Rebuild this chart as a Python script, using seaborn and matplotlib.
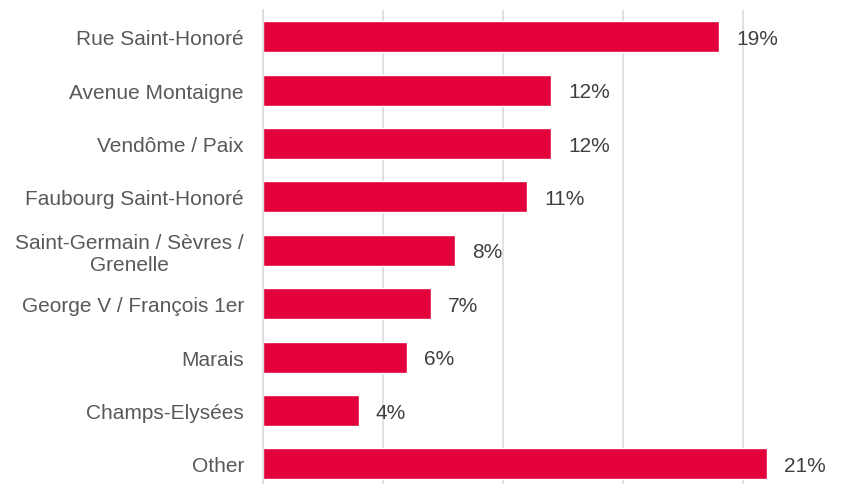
import matplotlib
matplotlib.use("Agg")
import matplotlib.pyplot as plt
import seaborn as sns
import pandas as pd

categories = ["Rue Saint-Honoré", "Avenue Montaigne", "Vendôme / Paix",
              "Faubourg Saint-Honoré", "Saint-Germain / Sèvres /\nGrenelle",
              "George V / François 1er", "Marais", "Champs-Elysées", "Other"]
values = [19, 12, 12, 11, 8, 7, 6, 4, 21]
value_labels = ["19%", "12%", "12%", "11%", "8%", "7%", "6%", "4%", "21%"]
grid_ticks = [0, 5, 10, 15, 20]

sns.set_style("white")
plt.rcParams['font.family'] = ['Liberation Sans', 'DejaVu Sans']

df = pd.DataFrame({"category": categories, "value": values})

fig = plt.figure(figsize=(8.55, 4.85), dpi=100)
ax = fig.add_axes([263/855, 0.0, 576/855, 1 - 11/485])

sns.barplot(data=df, y="category", x="value", orient="h", color="#E4003A",
            width=0.58, saturation=1, ax=ax)

ax.set_xlim(0, 24)
ax.set_ylim(8.376, -0.5)
ax.set_xticks(grid_ticks)
ax.set_xticklabels([])
ax.tick_params(axis="x", length=0)
ax.tick_params(axis="y", length=0, pad=13.7, labelsize=15, labelcolor="#595959")
for lbl in ax.get_yticklabels():
    lbl.set_multialignment("center")
    lbl.set_linespacing(1.15)
ax.set_xlabel("")
ax.set_ylabel("")
ax.grid(axis="x", color="#D9D9D9", linewidth=1.1)
ax.set_axisbelow(True)
for s in ["top", "right", "bottom"]:
    ax.spines[s].set_visible(False)
ax.spines["left"].set_color("#D9D9D9")
ax.spines["left"].set_linewidth(1.1)

for i, (v, t) in enumerate(zip(values, value_labels)):
    ax.annotate(t, xy=(v, i), xytext=(12.2, -1.2), textcoords="offset points",
                ha="left", va="center", fontsize=15, color="#404040")

fig.savefig("out.png", dpi=100)
